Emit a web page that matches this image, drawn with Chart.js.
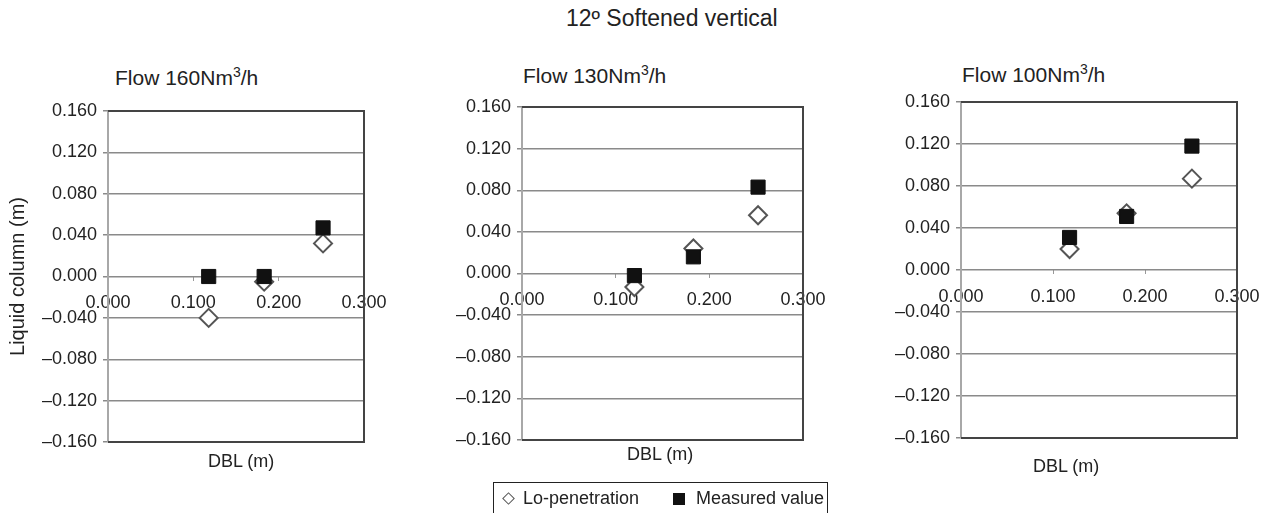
<!DOCTYPE html>
<html>
<head>
<meta charset="utf-8">
<script src="https://cdn.jsdelivr.net/npm/chart.js@4"></script>
<style>
  body { margin: 0; background: #fff; font-family: "Liberation Sans", Arial, sans-serif; color: #222; }
  #page { position: relative; width: 1268px; height: 513px; overflow: hidden; }
  canvas { position: absolute; }
  .txt { position: absolute; white-space: nowrap; font-size: 18px; line-height: 22px; }
  .sub { font-size: 21px; line-height: 24px; }
  .sub sup { font-size: 14px; line-height: 0; vertical-align: 8px; }
  #legend { position: absolute; left: 493px; top: 482px; width: 333px; height: 40px; border: 1px solid #222; }
  .dia { position: absolute; width: 7px; height: 7px; border: 1.5px solid #555; background: #fff; transform: rotate(45deg); }
  .sq { position: absolute; width: 12px; height: 12px; background: #111; }
</style>
</head>
<body>
<div id="page">
  <div class="txt" style="left:566px; top:5px; font-size:23px; line-height:26px;">12º Softened vertical</div>

  <div class="txt sub" style="left:115px; top:66px;">Flow 160Nm<sup>3</sup>/h</div>
  <div class="txt sub" style="left:523px; top:64px;">Flow 130Nm<sup>3</sup>/h</div>
  <div class="txt sub" style="left:962px; top:63px;">Flow 100Nm<sup>3</sup>/h</div>

  <canvas id="c160" width="404" height="371" style="left:0px; top:91px;"></canvas>
  <canvas id="c130" width="401" height="373" style="left:442px; top:87px;"></canvas>
  <canvas id="c100" width="396" height="376" style="left:881px; top:82px;"></canvas>

  <div class="txt" style="left:208px; top:450px;">DBL (m)</div>
  <div class="txt" style="left:627px; top:443px;">DBL (m)</div>
  <div class="txt" style="left:1033px; top:455px;">DBL (m)</div>

  <div id="legend">
    <div class="dia" style="left:10px; top:11px;"></div>
    <div class="txt" style="left:29px; top:4px;">Lo-penetration</div>
    <div class="sq" style="left:179px; top:10px;"></div>
    <div class="txt" style="left:202px; top:4px;">Measured value</div>
  </div>
</div>

<script>
// DBL (m) on x, liquid column (m) on y
const dbl160 = [0.118, 0.183, 0.252];
const loPen160 = [-0.040, -0.005, 0.032];
const measured160 = [0.000, 0.000, 0.047];

const dbl130 = [0.120, 0.183, 0.252];
const loPen130 = [-0.013, 0.024, 0.056];
const measured130 = [-0.002, 0.016, 0.083];

const dbl100 = [0.118, 0.180, 0.251];
const loPen100 = [0.020, 0.054, 0.087];
const measured100 = [0.031, 0.051, 0.118];

const xMin = 0, xMax = 0.3, xStep = 0.1;
const yMin = -0.16, yMax = 0.16, yStep = 0.04;

Chart.defaults.font.family = '"Liberation Sans", Arial, sans-serif';
Chart.defaults.font.size = 18;
Chart.defaults.color = '#222';

function fmt(v) {
    const r = Math.round(v * 1000) / 1000;
    return (r < 0 ? '\u2013' : '') + Math.abs(r).toFixed(3);
}

function pts(xs, ys) {
    return xs.map((x, i) => ({ x: x, y: ys[i] }));
}

// excel style frame: light left edge, dark top/right/bottom
const framePlugin = {
    id: 'frame',
    beforeDatasetsDraw(chart) {
        const a = chart.chartArea;
        const ctx = chart.ctx;
        ctx.save();
        ctx.lineWidth = 2;
        ctx.strokeStyle = '#a8a8a8';
        ctx.beginPath();
        ctx.moveTo(a.left, a.top);
        ctx.lineTo(a.left, a.bottom);
        ctx.stroke();
        ctx.strokeStyle = '#444';
        ctx.beginPath();
        ctx.moveTo(a.left, a.top);
        ctx.lineTo(a.right, a.top);
        ctx.lineTo(a.right, a.bottom);
        ctx.lineTo(a.left, a.bottom);
        ctx.stroke();
        ctx.restore();
    }
};

function makePanel(id, xs, loPen, measured, axisWidth, showTitle) {
    new Chart(document.getElementById(id), {
        type: 'scatter',
        data: {
            datasets: [{
                label: 'Measured value',
                data: pts(xs, measured),
                pointStyle: 'rect',
                pointRadius: 10,
                backgroundColor: '#111',
                borderColor: '#111',
                borderWidth: 1,
                order: 0
            }, {
                label: 'Lo-penetration',
                data: pts(xs, loPen),
                pointStyle: 'rectRot',
                pointRadius: 9,
                backgroundColor: '#fff',
                borderColor: '#555',
                borderWidth: 2,
                order: 1
            }]
        },
        options: {
            responsive: false,
            animation: false,
            devicePixelRatio: 1,
            layout: { padding: { top: 20, bottom: 20, left: 0, right: 40 } },
            plugins: { legend: { display: false }, tooltip: { enabled: false } },
            scales: {
                x: {
                    type: 'linear',
                    position: { y: 0 },
                    min: xMin,
                    max: xMax,
                    ticks: { stepSize: xStep, callback: fmt, padding: 12, maxRotation: 0 },
                    grid: { drawOnChartArea: false, tickLength: 4, color: '#999' },
                    border: { display: false }
                },
                y: {
                    min: yMin,
                    max: yMax,
                    ticks: { stepSize: yStep, callback: fmt, padding: 6 },
                    grid: { color: '#8a8a8a', lineWidth: 1.5, tickLength: 5 },
                    border: { display: false },
                    title: {
                        display: showTitle,
                        text: 'Liquid column (m)',
                        font: { size: 20 },
                        padding: { top: 6, bottom: 0 }
                    },
                    afterFit: s => { s.width = axisWidth; }
                }
            }
        },
        plugins: [framePlugin]
    });
}

makePanel('c160', dbl160, loPen160, measured160, 108, true);
makePanel('c130', dbl130, loPen130, measured130, 80, false);
makePanel('c100', dbl100, loPen100, measured100, 80, false);
</script>
</body>
</html>
